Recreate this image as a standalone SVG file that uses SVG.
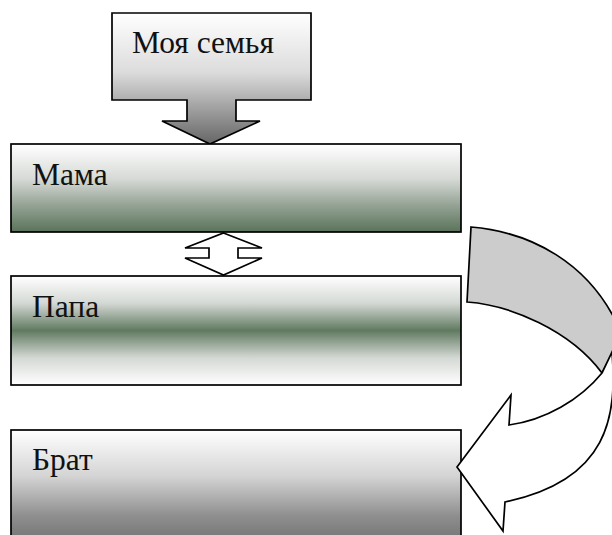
<svg xmlns="http://www.w3.org/2000/svg" width="612" height="535" viewBox="0 0 612 535">
  <style>
    .shape { stroke: #000; stroke-width: 1.7; stroke-linejoin: miter; }
    .label { font-family: "Liberation Serif", "Times New Roman", serif; font-size: 31.5px; fill: #111; }
  </style>
  <defs>
    <linearGradient id="gTitle" x1="0" y1="0" x2="0" y2="1">
      <stop offset="0" stop-color="#ffffff"/>
      <stop offset="0.45" stop-color="#dcdcdc"/>
      <stop offset="1" stop-color="#666666"/>
    </linearGradient>
    <linearGradient id="gMama" x1="0" y1="0" x2="0" y2="1">
      <stop offset="0" stop-color="#ffffff"/>
      <stop offset="0.4" stop-color="#d6d9d6"/>
      <stop offset="0.7" stop-color="#94a294"/>
      <stop offset="1" stop-color="#5a735a"/>
    </linearGradient>
    <linearGradient id="gPapa" x1="0" y1="0" x2="0" y2="1">
      <stop offset="0" stop-color="#ffffff"/>
      <stop offset="0.25" stop-color="#d4d8d4"/>
      <stop offset="0.5" stop-color="#607a60"/>
      <stop offset="0.75" stop-color="#d4d8d4"/>
      <stop offset="1" stop-color="#ffffff"/>
    </linearGradient>
    <linearGradient id="gBrat" x1="0" y1="0" x2="0" y2="1">
      <stop offset="0" stop-color="#ffffff"/>
      <stop offset="0.4" stop-color="#d4d4d4"/>
      <stop offset="0.75" stop-color="#8e8e8e"/>
      <stop offset="1" stop-color="#707070"/>
    </linearGradient>
  </defs>

  <!-- title callout with down arrow -->
  <g id="node-title">
    <path class="shape" fill="url(#gTitle)" d="M112,13 H311 V100 H236 V121 H260 L210,144 L162,121 H187 V100 H112 Z"/>
    <text class="label" x="132" y="53">Моя семья</text>
  </g>

  <g id="node-mama">
    <rect class="shape" fill="url(#gMama)" x="11" y="144" width="450" height="88"/>
    <text class="label" x="32" y="185">Мама</text>
  </g>

  <g id="node-papa">
    <rect class="shape" fill="url(#gPapa)" x="11" y="276" width="450" height="109"/>
    <text class="label" x="32" y="317">Папа</text>
  </g>

  <g id="node-brat">
    <rect class="shape" fill="url(#gBrat)" x="11" y="430" width="450" height="115"/>
    <text class="label" x="32" y="470">Брат</text>
  </g>

  <g id="connectors">
    <!-- up-down double arrow between Мама and Папа -->
    <path class="shape" fill="#ffffff" d="M223.5,233 L262,248 H238 V258 H262 L223.5,275 L185,258 H209 V248 H185 Z"/>
    <!-- curved arrow: back band -->
    <path class="shape" fill="#cccccc" d="M471,227 C530,232 590,262 620,330 L622,334 L602,373 C570,330 510,305 467,302 Z"/>
    <!-- curved arrow: front band with head -->
    <path class="shape" fill="#ffffff" d="M612,352 C617,415 610,480 505,502 L503,531 L457,467 L511,395 L509,425 C545,420 580,400 602,373 Z"/>
  </g>
</svg>
